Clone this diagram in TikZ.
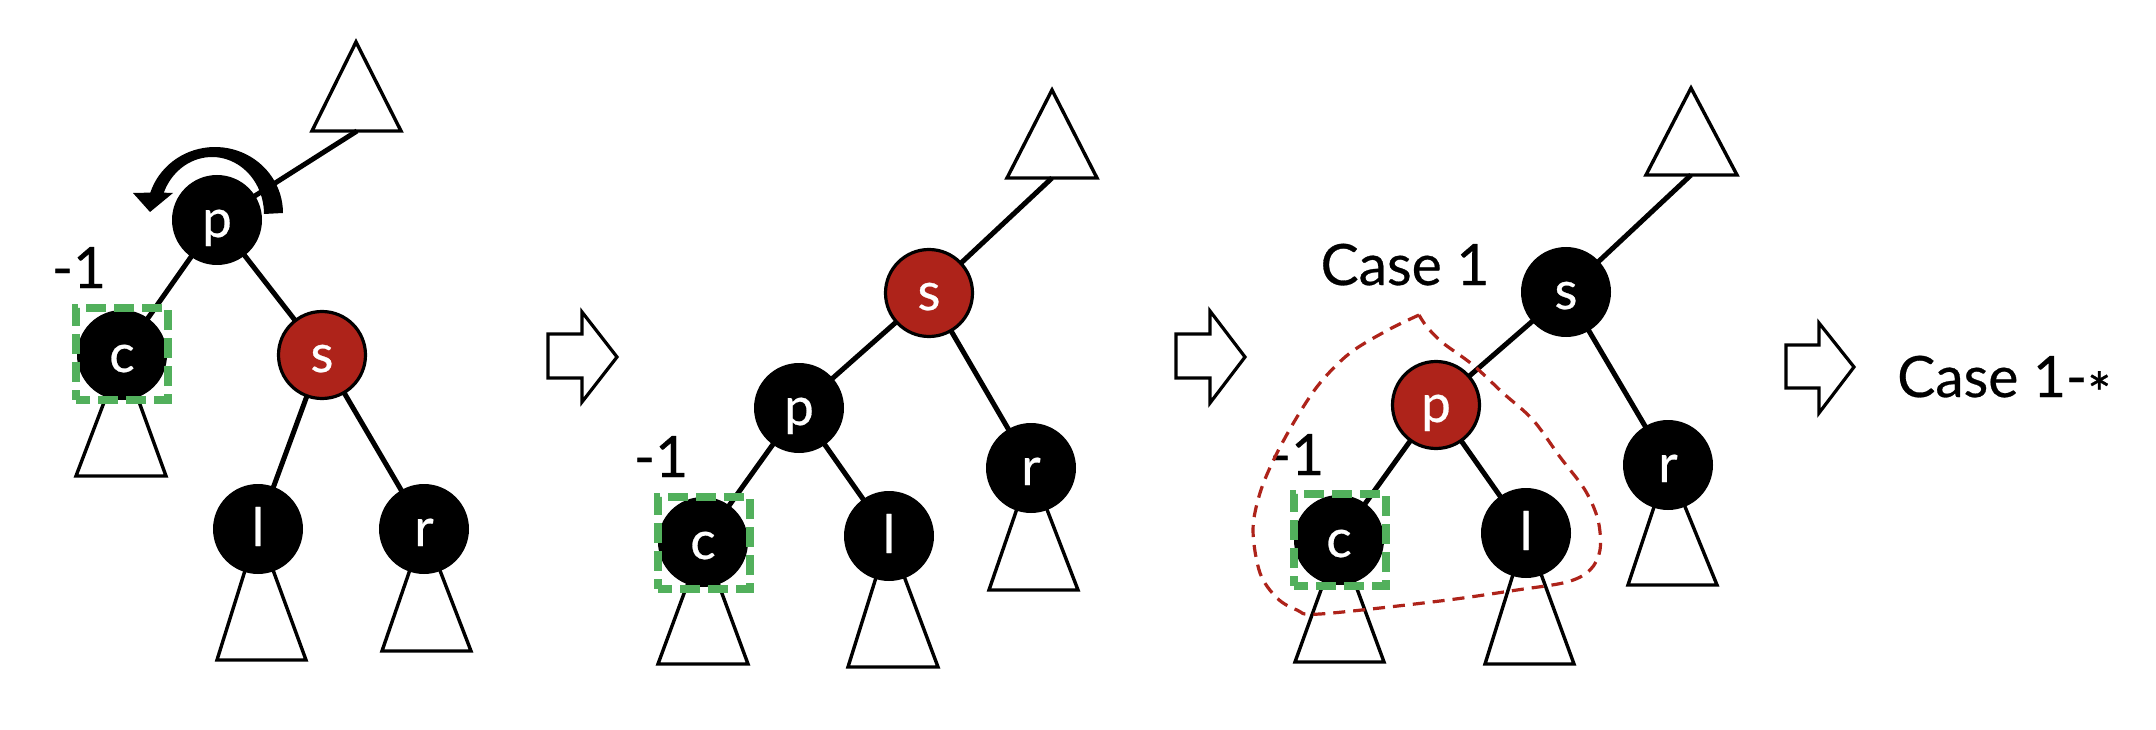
\documentclass[tikz,border=0pt]{standalone}
\usepackage{fontspec}
\setmainfont{Lato}[FakeBold=0.5]
\definecolor{rbred}{HTML}{AE231A}
\definecolor{gbgreen}{HTML}{52B05C}
\newcommand\nodefont{\fontsize{53}{56}\selectfont}
\newcommand\lblfont{\fontsize{57}{60}\selectfont}
\pgfdeclarelayer{bg}
\pgfsetlayers{bg,main}
\tikzset{
  treenode/.style={circle, minimum size=90pt, inner sep=0pt, text=white,
    font=\nodefont, text height=34pt, text depth=0pt},
  bn/.style={treenode, fill=black},
  rn/.style={treenode, fill=rbred, draw=black, line width=3.2pt, minimum size=87pt},
  edge/.style={line width=5pt},
  subtri/.style={draw=black, fill=white, line width=3.4pt, line join=miter},
  greensq/.style={draw=gbgreen, line width=7.5pt, minimum size=92pt, inner sep=0pt,
    dash pattern=on 20pt off 8pt, dash phase=6pt},
  blockarrow/.style={draw=black, fill=white, line width=3.2pt, line join=miter},
  lbl/.style={font=\lblfont, inner sep=0pt, anchor=base},
  dashcurve/.style={draw=rbred, line width=3.2pt, dash pattern=on 12pt off 8pt}
}
\begin{document}
\begin{tikzpicture}[x=1pt,y=-1pt]
\useasboundingbox (0,0) rectangle (2156,730);
\begin{pgfonlayer}{bg}
\fill[white] (0,0) rectangle (2156,730);
\end{pgfonlayer}

% ---------------- Tree 1 ----------------
\node[bn] (t1p) at (217,220) {p};
\node[bn] (t1c) at (122,355) {c};
\node[rn] (t1s) at (322,355) {s};
\node[bn] (t1l) at (258,529) {l};
\node[bn] (t1r) at (424,529) {r};
\coordinate (top1) at (357,131);
\begin{pgfonlayer}{bg}
\draw[subtri] (356,42) -- (312,131) -- (401,131) -- cycle;
\draw[subtri] (t1c.center) -- (76,476) -- (166,476) -- cycle;
\draw[subtri] (t1l.center) -- (217,660) -- (306,660) -- cycle;
\draw[subtri] (t1r.center) -- (382,651) -- (471,651) -- cycle;
\draw[edge] (top1) -- (t1p.center);
\draw[edge] (t1p.center) -- (t1c.center);
\draw[edge] (t1p.center) -- (t1s.center);
\draw[edge] (t1s.center) -- (t1l.center);
\draw[edge] (t1s.center) -- (t1r.center);
\end{pgfonlayer}
\node[greensq] (t1sq) at (122,354) {};
\node[lbl] (t1m) at (79,288) {-1};
% rotation arrow
\fill plot[domain=0:162,samples=40] ({215+68*cos(\x)},{213-66*sin(\x)})
  -- (133,193) -- (150,212) -- (173,193)
  -- plot[domain=158:0,samples=40] ({212+52*cos(\x)},{214-57*sin(\x)}) -- cycle;

% arrow 1
\draw[blockarrow] (548,334) -- (582,334) -- (582,312) -- (617,357) -- (582,402) -- (582,378) -- (548,378) -- cycle;

% ---------------- Tree 2 ----------------
\node[rn] (t2s) at (929,293) {s};
\node[bn] (t2p) at (799,408) {p};
\node[bn] (t2r) at (1031,468) {r};
\node[bn] (t2c) at (703,542) {c};
\node[bn] (t2l) at (889,536) {l};
\coordinate (top2) at (1052,178);
\begin{pgfonlayer}{bg}
\draw[subtri] (1052,90) -- (1007,178) -- (1097,178) -- cycle;
\draw[subtri] (t2c.center) -- (658,664) -- (748,664) -- cycle;
\draw[subtri] (t2l.center) -- (848,667) -- (938,667) -- cycle;
\draw[subtri] (t2r.center) -- (989,590) -- (1078,590) -- cycle;
\draw[edge] (top2) -- (t2s.center);
\draw[edge] (t2s.center) -- (t2p.center);
\draw[edge] (t2s.center) -- (t2r.center);
\draw[edge] (t2p.center) -- (t2c.center);
\draw[edge] (t2p.center) -- (t2l.center);
\end{pgfonlayer}
\node[greensq] (t2sq) at (704,543) {};
\node[lbl] (t2m) at (661,477) {-1};

% arrow 2
\draw[blockarrow] (1176,334) -- (1210,334) -- (1210,311) -- (1245,357) -- (1210,403) -- (1210,378) -- (1176,378) -- cycle;

% ---------------- Tree 3 ----------------
\node[bn] (t3s) at (1566,292) {s};
\node[rn] (t3p) at (1436,405) {p};
\node[bn] (t3r) at (1668,465) {r};
\node[bn] (t3c) at (1339,540) {c};
\node[bn] (t3l) at (1526,533) {l};
\coordinate (top3) at (1691,175);
\begin{pgfonlayer}{bg}
\draw[subtri] (1691,88) -- (1646,175) -- (1737,175) -- cycle;
\draw[subtri] (t3c.center) -- (1295,662) -- (1384,662) -- cycle;
\draw[subtri] (t3l.center) -- (1485,664) -- (1574,664) -- cycle;
\draw[subtri] (t3r.center) -- (1628,585) -- (1717,585) -- cycle;
\draw[edge] (top3) -- (t3s.center);
\draw[edge] (t3s.center) -- (t3p.center);
\draw[edge] (t3s.center) -- (t3r.center);
\draw[edge] (t3p.center) -- (t3c.center);
\draw[edge] (t3p.center) -- (t3l.center);
\end{pgfonlayer}
\node[greensq] (t3sq) at (1340,540) {};
\node[lbl] (t3m) at (1297,475) {-1};
\node[lbl] (case1) at (1405,285) {Case 1};
\draw[dashcurve] plot[smooth, tension=0.55] coordinates {
  (1419,315) (1388,330) (1350,353) (1320,383) (1297,417) (1275,457) (1260,493)
  (1253,530) (1260,573) (1277,598) (1297,610) (1320,614) (1440,601) (1517,590)
  (1567,582) (1590,570) (1600,550) (1598,520) (1585,490) (1560,457) (1533,420)
  (1503,393) (1473,365) (1443,343) (1427,327) (1419,315)};

% arrow 3
\draw[blockarrow] (1786,345) -- (1819,345) -- (1819,323) -- (1854,367) -- (1819,413) -- (1819,388) -- (1786,388) -- cycle;
\node[lbl, anchor=base west] (case1s) at (1897,397) {Case 1-\raisebox{-0.3em}{*}};
\end{tikzpicture}
\end{document}
